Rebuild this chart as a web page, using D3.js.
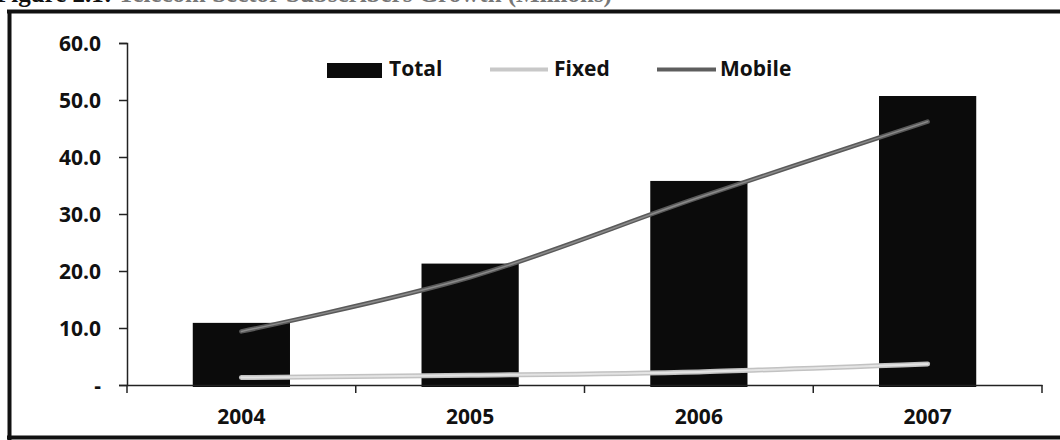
<!DOCTYPE html>
<html>
<head>
<meta charset="utf-8">
<script src="https://cdn.jsdelivr.net/npm/d3@7"></script>
<style>
  html, body { margin: 0; padding: 0; background: #fff; }
  svg { display: block; }
  .lbl { font-family: "Open Sans", "DejaVu Sans", sans-serif; font-weight: 700; font-size: 21px; fill: #111; }
</style>
</head>
<body>
<svg id="chart" width="1060" height="440"></svg>
<script>
// Data
const years = ["2004", "2005", "2006", "2007"];
const totalValues = [10.9, 21.3, 35.8, 50.7];
const fixedValues = [1.3, 1.7, 2.3, 3.7];
const mobileValues = [9.4, 18.9, 32.9, 46.2];
const yTicks = [0, 10, 20, 30, 40, 50, 60];
const legendLabels = ["Total", "Fixed", "Mobile"];

const svg = d3.select("#chart");

// Frame around the figure
const frame = svg.append("g").attr("stroke", "#111").attr("fill", "none");
frame.append("line").attr("x1", 7).attr("x2", 1060).attr("y1", 11.5).attr("y2", 11.5).attr("stroke-width", 4);
frame.append("line").attr("x1", 9.5).attr("x2", 9.5).attr("y1", 10).attr("y2", 440).attr("stroke-width", 4);
frame.append("line").attr("x1", 7).attr("x2", 1060).attr("y1", 437.5).attr("y2", 437.5).attr("stroke-width", 4);

// Caption above the frame (its upper part runs past the top edge)
const cap = svg.append("text")
  .attr("x", -4).attr("y", 2)
  .attr("font-family", "'Liberation Serif', 'Times New Roman', serif")
  .attr("font-weight", 700).attr("font-size", 25);
cap.append("tspan").attr("fill", "#111").text("Figure 2.1: ");
cap.append("tspan").attr("fill", "#777").text("Telecom Sector Subscribers Growth (Millions)");

// Scales
const x = d3.scaleBand().domain(years).range([127, 1042]).padding(0);
const y = d3.scaleLinear().domain([0, 60]).range([385, 43]);
const barW = x.bandwidth() * 0.425;
const cx = d => x(d) + x.bandwidth() / 2;

// Bars: Total
svg.append("g").selectAll("rect")
  .data(years)
  .join("rect")
  .attr("x", d => cx(d) - barW / 2)
  .attr("width", barW)
  .attr("y", (d, i) => y(totalValues[i]))
  .attr("height", (d, i) => y(0) - y(totalValues[i]) + 2)
  .attr("fill", "#0b0b0b");

// Y axis
const yAxis = d3.axisLeft(y)
  .tickValues(yTicks)
  .tickSize(8)
  .tickPadding(18)
  .tickFormat(v => v === 0 ? "-" : d3.format(".1f")(v));
const gy = svg.append("g").attr("transform", "translate(127,0)").call(yAxis);
gy.select(".domain").attr("stroke", "#222").attr("stroke-width", 1.5);
gy.selectAll(".tick line").attr("stroke", "#222").attr("stroke-width", 1.5);
gy.selectAll(".tick text").attr("class", "lbl").attr("dy", "0.36em");

// X axis: labels at band centres, ticks at band boundaries
const xAxis = d3.axisBottom(x).tickSize(0).tickPadding(24);
const gx = svg.append("g").attr("transform", `translate(0,${y(0)})`).call(xAxis);
gx.select(".domain").attr("stroke", "#222").attr("stroke-width", 1.5);
gx.selectAll(".tick text").attr("class", "lbl");
const bounds = years.map(d => x(d)).concat([x.range()[1]]);
gx.append("g").selectAll("line")
  .data(bounds)
  .join("line")
  .attr("x1", d => d).attr("x2", d => d)
  .attr("y1", 0).attr("y2", 8)
  .attr("stroke", "#222").attr("stroke-width", 1.5);

// Lines
const line = d3.line()
  .x((v, i) => cx(years[i]))
  .y(v => y(v))
  .curve(d3.curveCatmullRom.alpha(0.5));

const fixedG = svg.append("g").attr("fill", "none").attr("stroke-linecap", "round");
fixedG.append("path").attr("d", line(fixedValues)).attr("stroke", "#c2c2c2").attr("stroke-width", 5);
fixedG.append("path").attr("d", line(fixedValues)).attr("stroke", "#e4e4e4").attr("stroke-width", 2);

const mobileG = svg.append("g").attr("fill", "none").attr("stroke-linecap", "round");
mobileG.append("path").attr("d", line(mobileValues)).attr("stroke", "#5a5a5a").attr("stroke-width", 4.5);
mobileG.append("path").attr("d", line(mobileValues)).attr("stroke", "#8a8a8a").attr("stroke-width", 1.5);

// Legend
const lg = svg.append("g");
lg.append("rect").attr("x", 327).attr("y", 63).attr("width", 55).attr("height", 15).attr("fill", "#0b0b0b");
lg.append("text").attr("class", "lbl").attr("x", 389).attr("y", 76).text(legendLabels[0]);
lg.append("line").attr("x1", 490).attr("x2", 548).attr("y1", 69.5).attr("y2", 69.5)
  .attr("stroke", "#c8c8c8").attr("stroke-width", 4);
lg.append("text").attr("class", "lbl").attr("x", 554).attr("y", 76).text(legendLabels[1]);
lg.append("line").attr("x1", 657).attr("x2", 716).attr("y1", 69.5).attr("y2", 69.5)
  .attr("stroke", "#5e5e5e").attr("stroke-width", 4);
lg.append("text").attr("class", "lbl").attr("x", 720).attr("y", 76).text(legendLabels[2]);
</script>
</body>
</html>
